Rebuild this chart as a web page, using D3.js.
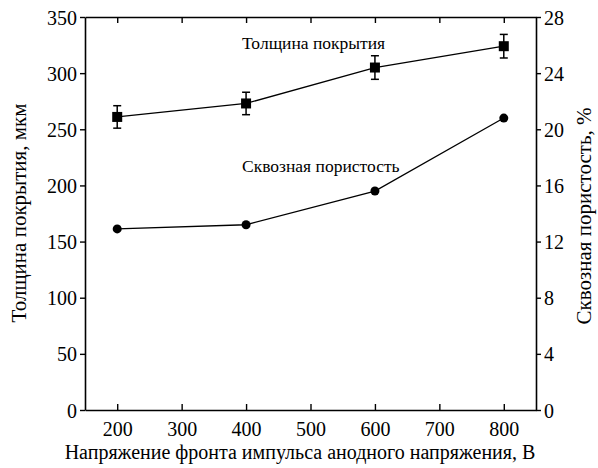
<!DOCTYPE html>
<html>
<head>
<meta charset="utf-8">
<script src="https://cdn.jsdelivr.net/npm/d3@7"></script>
</head>
<body style="margin:0; background:#fff">
<svg id="chart" width="598" height="468"></svg>
<script>
/* Data */
const voltage = [200, 400, 600, 800];
const thickness = [261, 273, 305, 324];
const thicknessErr = [10, 10, 10.5, 10.5];
const porosity = [12.9, 13.2, 15.6, 20.8];
const xTicks = [200, 300, 400, 500, 600, 700, 800];
const yLeftTicks = [0, 50, 100, 150, 200, 250, 300, 350];
const yRightTicks = [0, 4, 8, 12, 16, 20, 24, 28];

const FONT = '"Liberation Serif"';

/* SVG */
const svg = d3.select('#chart');
const margin = { top: 17, right: 62, bottom: 58, left: 85 };
const width = 598, height = 468;
const innerWidth = width - margin.left - margin.right;
const innerHeight = height - margin.top - margin.bottom;

const g = svg.append('g')
  .attr('transform', `translate(${margin.left},${margin.top})`);

/* Scales */
const x = d3.scaleLinear().domain([150, 850]).range([0, innerWidth]);
const yL = d3.scaleLinear().domain([0, 350]).range([innerHeight, 0]);
const yR = d3.scaleLinear().domain([0, 28]).range([innerHeight, 0]);

const FS = 20;

/* Axes */
const axBottom = g.append('g')
  .attr('transform', `translate(0,${innerHeight})`)
  .call(d3.axisBottom(x).tickValues(xTicks).tickSizeInner(-6).tickSizeOuter(0).tickPadding(12));
const axTop = g.append('g')
  .call(d3.axisTop(x).tickValues(xTicks).tickSizeInner(-6).tickSizeOuter(0).tickFormat(''));
const axLeft = g.append('g')
  .call(d3.axisLeft(yL).tickValues(yLeftTicks).tickSizeInner(5).tickSizeOuter(0).tickPadding(3));
const axRight = g.append('g')
  .attr('transform', `translate(${innerWidth},0)`)
  .call(d3.axisRight(yR).tickValues(yRightTicks).tickSizeInner(5).tickSizeOuter(0).tickPadding(3));

[axBottom, axTop, axLeft, axRight].forEach(a => {
  a.attr('font-family', null).attr('font-size', null);
  a.select('.domain').attr('stroke', '#000').attr('stroke-width', 1.6);
  a.selectAll('.tick line').attr('stroke', '#000').attr('stroke-width', 1.4);
  a.selectAll('.tick text')
    .style('font-family', FONT)
    .style('font-size', FS + 'px')
    .attr('fill', '#000');
});
axLeft.selectAll('.tick text').attr('dy', '0.35em');
axRight.selectAll('.tick text').attr('dy', '0.35em');

/* Thickness series */
const lineL = d3.line().x((d, i) => x(voltage[i])).y(d => yL(d));
g.append('path')
  .datum(thickness)
  .attr('d', lineL)
  .attr('fill', 'none')
  .attr('stroke', '#000')
  .attr('stroke-width', 1.3);

const err = g.append('g').selectAll('g')
  .data(thickness)
  .enter().append('g');
err.append('line')
  .attr('x1', (d, i) => x(voltage[i])).attr('x2', (d, i) => x(voltage[i]))
  .attr('y1', (d, i) => yL(d - thicknessErr[i])).attr('y2', (d, i) => yL(d + thicknessErr[i]))
  .attr('stroke', '#000').attr('stroke-width', 1.5);
[-1, 1].forEach(s => {
  err.append('line')
    .attr('x1', (d, i) => x(voltage[i]) - 4).attr('x2', (d, i) => x(voltage[i]) + 4)
    .attr('y1', (d, i) => yL(d + s * thicknessErr[i])).attr('y2', (d, i) => yL(d + s * thicknessErr[i]))
    .attr('stroke', '#000').attr('stroke-width', 1.5);
});

g.append('g').selectAll('rect')
  .data(thickness)
  .enter().append('rect')
  .attr('x', (d, i) => x(voltage[i]) - 5)
  .attr('y', d => yL(d) - 5)
  .attr('width', 10)
  .attr('height', 10)
  .attr('fill', '#000');

/* Porosity series */
const lineR = d3.line().x((d, i) => x(voltage[i])).y(d => yR(d));
g.append('path')
  .datum(porosity)
  .attr('d', lineR)
  .attr('fill', 'none')
  .attr('stroke', '#000')
  .attr('stroke-width', 1.3);

g.append('g').selectAll('circle')
  .data(porosity)
  .enter().append('circle')
  .attr('cx', (d, i) => x(voltage[i]))
  .attr('cy', d => yR(d))
  .attr('r', 4.5)
  .attr('fill', '#000');

/* Series labels */
g.append('text')
  .attr('x', 157).attr('y', 32)
  .style('font-family', FONT)
  .style('font-size', '17.5px')
  .text('Толщина покрытия');
g.append('text')
  .attr('x', 157).attr('y', 155)
  .style('font-family', FONT)
  .style('font-size', '17.5px')
  .text('Сквозная пористость');

/* Axis titles */
svg.append('text')
  .attr('x', 300).attr('y', 459)
  .attr('text-anchor', 'middle')
  .style('font-family', FONT)
  .style('font-size', FS + 'px')
  .text('Напряжение фронта импульса анодного напряжения, В');

svg.append('text')
  .attr('transform', 'translate(26,213) rotate(-90)')
  .attr('text-anchor', 'middle')
  .style('font-family', FONT)
  .style('font-size', '21px')
  .text('Толщина покрытия, мкм');

svg.append('text')
  .attr('transform', 'translate(591,216) rotate(-90)')
  .attr('text-anchor', 'middle')
  .style('font-family', FONT)
  .style('font-size', '21px')
  .text('Сквозная пористость, %');
</script>
</body>
</html>
